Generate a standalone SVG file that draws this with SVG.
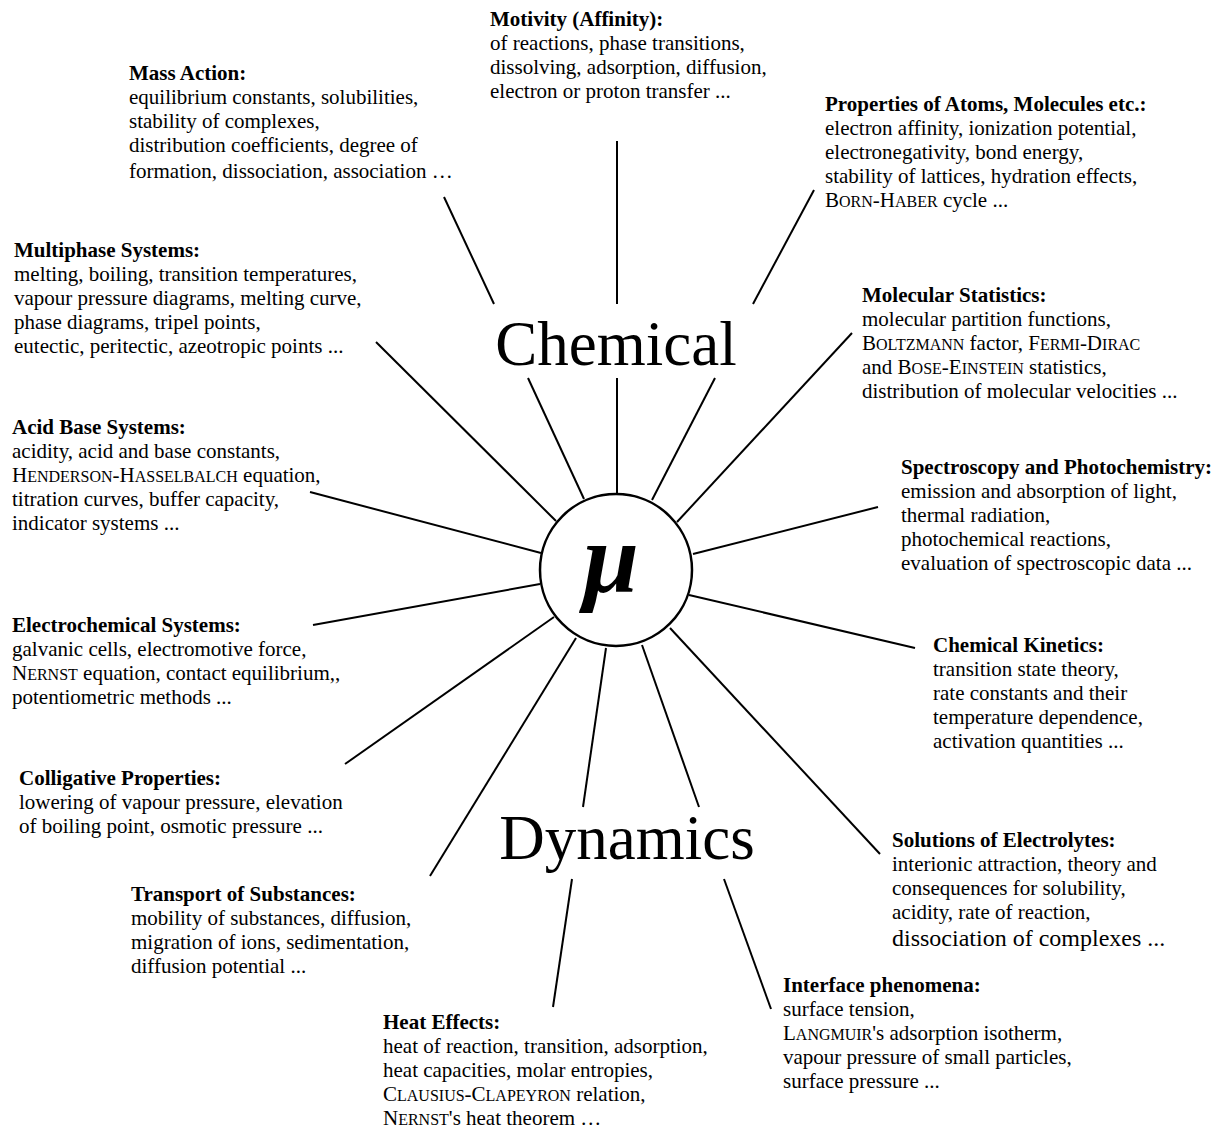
<svg xmlns="http://www.w3.org/2000/svg" width="1218" height="1131" viewBox="0 0 1218 1131">
<style>
text{font-family:"Liberation Serif","Times New Roman",serif;fill:#000}
.h{font-size:21px;font-weight:bold}
.b{font-size:21px}
.s{font-size:16px}
.big{font-size:63px}
.con line{stroke:#000;stroke-width:2;stroke-linecap:butt}
</style>
<rect width="1218" height="1131" fill="#fff"/>
<g id="connectors" class="con">
<line x1="617" y1="141" x2="617" y2="304"/><line x1="617" y1="378" x2="617" y2="493"/>
<line x1="444" y1="197" x2="494" y2="304"/><line x1="528" y1="378" x2="584" y2="499"/>
<line x1="814" y1="190" x2="753" y2="304"/><line x1="715" y1="378" x2="652" y2="500"/>
<line x1="852" y1="333" x2="677" y2="522"/>
<line x1="376" y1="342" x2="556" y2="521"/>
<line x1="310" y1="492" x2="541" y2="553"/>
<line x1="878" y1="507" x2="693" y2="554"/>
<line x1="313" y1="625" x2="540" y2="584"/>
<line x1="915" y1="648" x2="689" y2="595"/>
<line x1="345" y1="764" x2="554" y2="617"/>
<line x1="880" y1="854" x2="670" y2="628"/>
<line x1="430" y1="876" x2="576" y2="638"/>
<line x1="606" y1="648" x2="583" y2="807"/><line x1="572" y1="879" x2="553" y2="1007"/>
<line x1="642" y1="645" x2="699" y2="807"/><line x1="724" y1="879" x2="771" y2="1009"/>
</g>
<g id="center">
<circle cx="616" cy="570" r="76" fill="#fff" stroke="#000" stroke-width="2.5"/>
<text x="611" y="592" text-anchor="middle" font-size="100" font-style="italic" font-weight="bold">μ</text>
</g>
<g id="title">
<text class="big" x="616" y="365" text-anchor="middle">Chemical</text>
<text class="big" x="627" y="859" text-anchor="middle">Dynamics</text>
</g>
<g id="motivity">
<text class="h" x="490" y="26">Motivity (Affinity):</text>
<text class="b" x="490" y="50">of reactions, phase transitions,</text>
<text class="b" x="490" y="74">dissolving, adsorption, diffusion,</text>
<text class="b" x="490" y="98">electron or proton transfer ...</text>
</g>
<g id="mass-action">
<text class="h" x="129" y="80">Mass Action:</text>
<text class="b" x="129" y="104">equilibrium constants, solubilities,</text>
<text class="b" x="129" y="128">stability of complexes,</text>
<text class="b" x="129" y="152">distribution coefficients, degree of</text>
<text class="b" x="129" y="178">formation, dissociation, association …</text>
</g>
<g id="properties">
<text class="h" x="825" y="111">Properties of Atoms, Molecules etc.:</text>
<text class="b" x="825" y="135">electron affinity, ionization potential,</text>
<text class="b" x="825" y="159">electronegativity, bond energy,</text>
<text class="b" x="825" y="183">stability of lattices, hydration effects,</text>
<text class="b" x="825" y="207">B<tspan class="s">ORN</tspan>-H<tspan class="s">ABER</tspan> cycle ...</text>
</g>
<g id="multiphase">
<text class="h" x="14" y="257">Multiphase Systems:</text>
<text class="b" x="14" y="281">melting, boiling, transition temperatures,</text>
<text class="b" x="14" y="305">vapour pressure diagrams, melting curve,</text>
<text class="b" x="14" y="329">phase diagrams, tripel points,</text>
<text class="b" x="14" y="353">eutectic, peritectic, azeotropic points ...</text>
</g>
<g id="molecular-statistics">
<text class="h" x="862" y="302">Molecular Statistics:</text>
<text class="b" x="862" y="326">molecular partition functions,</text>
<text class="b" x="862" y="350">B<tspan class="s">OLTZMANN</tspan> factor, F<tspan class="s">ERMI</tspan>-D<tspan class="s">IRAC</tspan></text>
<text class="b" x="862" y="374">and B<tspan class="s">OSE</tspan>-E<tspan class="s">INSTEIN</tspan> statistics,</text>
<text class="b" x="862" y="398">distribution of molecular velocities ...</text>
</g>
<g id="acid-base">
<text class="h" x="12" y="434">Acid Base Systems:</text>
<text class="b" x="12" y="458">acidity, acid and base constants,</text>
<text class="b" x="12" y="482">H<tspan class="s">ENDERSON</tspan>-H<tspan class="s">ASSELBALCH</tspan> equation,</text>
<text class="b" x="12" y="506">titration curves, buffer capacity,</text>
<text class="b" x="12" y="530">indicator systems ...</text>
</g>
<g id="spectroscopy">
<text class="h" x="901" y="474">Spectroscopy and Photochemistry:</text>
<text class="b" x="901" y="498">emission and absorption of light,</text>
<text class="b" x="901" y="522">thermal radiation,</text>
<text class="b" x="901" y="546">photochemical reactions,</text>
<text class="b" x="901" y="570">evaluation of spectroscopic data ...</text>
</g>
<g id="electrochemical">
<text class="h" x="12" y="632">Electrochemical Systems:</text>
<text class="b" x="12" y="656">galvanic cells, electromotive force,</text>
<text class="b" x="12" y="680">N<tspan class="s">ERNST</tspan> equation, contact equilibrium,,</text>
<text class="b" x="12" y="704">potentiometric methods ...</text>
</g>
<g id="kinetics">
<text class="h" x="933" y="652">Chemical Kinetics:</text>
<text class="b" x="933" y="676">transition state theory,</text>
<text class="b" x="933" y="700">rate constants and their</text>
<text class="b" x="933" y="724">temperature dependence,</text>
<text class="b" x="933" y="748">activation quantities ...</text>
</g>
<g id="colligative">
<text class="h" x="19" y="785">Colligative Properties:</text>
<text class="b" x="19" y="809">lowering of vapour pressure, elevation</text>
<text class="b" x="19" y="833">of boiling point, osmotic pressure ...</text>
</g>
<g id="solutions">
<text class="h" x="892" y="847">Solutions of Electrolytes:</text>
<text class="b" x="892" y="871">interionic attraction, theory and</text>
<text class="b" x="892" y="895">consequences for solubility,</text>
<text class="b" x="892" y="919">acidity, rate of reaction,</text>
<text x="892" y="946" font-size="24">dissociation of complexes ...</text>
</g>
<g id="transport">
<text class="h" x="131" y="901">Transport of Substances:</text>
<text class="b" x="131" y="925">mobility of substances, diffusion,</text>
<text class="b" x="131" y="949">migration of ions, sedimentation,</text>
<text class="b" x="131" y="973">diffusion potential ...</text>
</g>
<g id="heat">
<text class="h" x="383" y="1029">Heat Effects:</text>
<text class="b" x="383" y="1053">heat of reaction, transition, adsorption,</text>
<text class="b" x="383" y="1077">heat capacities, molar entropies,</text>
<text class="b" x="383" y="1101">C<tspan class="s">LAUSIUS</tspan>-C<tspan class="s">LAPEYRON</tspan> relation,</text>
<text class="b" x="383" y="1125">N<tspan class="s">ERNST</tspan>'s heat theorem …</text>
</g>
<g id="interface">
<text class="h" x="783" y="992">Interface phenomena:</text>
<text class="b" x="783" y="1016">surface tension,</text>
<text class="b" x="783" y="1040">L<tspan class="s">ANGMUIR</tspan>'s adsorption isotherm,</text>
<text class="b" x="783" y="1064">vapour pressure of small particles,</text>
<text class="b" x="783" y="1088">surface pressure ...</text>
</g>
</svg>
